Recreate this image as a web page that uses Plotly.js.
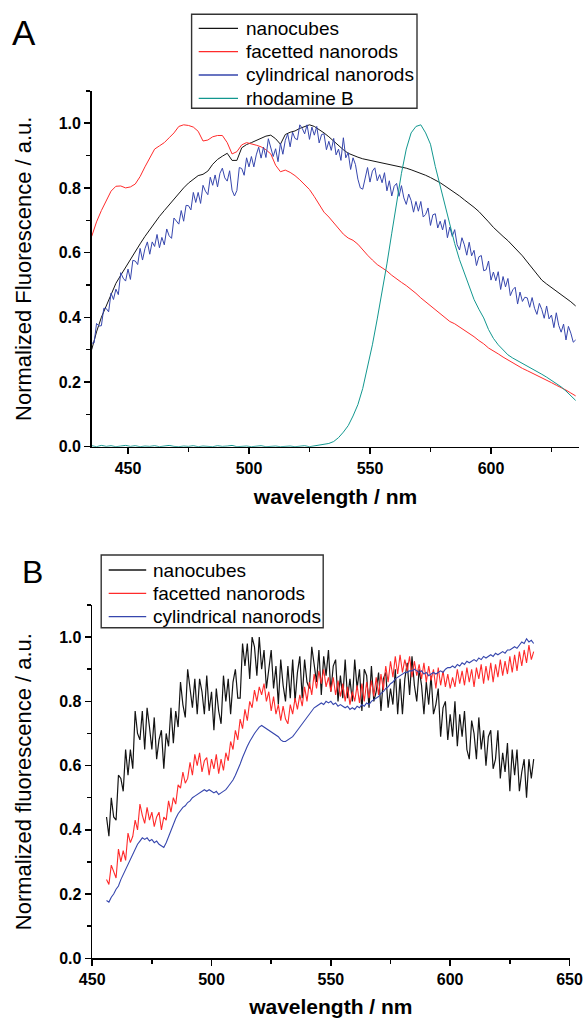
<!DOCTYPE html>
<html>
<head>
<meta charset="utf-8">
<script src="https://cdn.plot.ly/plotly-3.0.1.min.js"></script>
<style>html,body{margin:0;padding:0;background:#fff;}#chart{width:585px;height:1018px;}</style>
</head>
<body>
<div id="chart"></div>
<script>
// ---------------- DATA: panel A ----------------
const wavelengthA = [435,437,439,441,443,445,447,449,451,453,455,457,459,461,463,465,467,469,471,473,475,477,479,481,483,485,487,489,491,493,495,497,499,501,503,505,507,509,511,513,515,517,519,521,523,525,527,529,531,533,535,537,539,541,543,545,547,549,551,553,555,557,559,561,563,565,567,569,571,573,575,577,579,581,583,585,587,589,591,593,595,597,599,601,603,605,607,609,611,613,615,617,619,621,623,625,627,629,631,633,635];
const nanocubesA = [0.30,0.355,0.40,0.435,0.47,0.505,0.53,0.555,0.578,0.603,
0.627,0.65,0.672,0.693,0.712,0.73,0.748,0.765,0.785,0.80,
0.815,0.828,0.838,0.842,0.852,0.873,0.888,0.898,0.907,0.885,
0.885,0.924,0.934,0.94,0.946,0.952,0.96,0.963,0.952,0.935,
0.965,0.972,0.976,0.984,0.99,0.995,0.99,0.981,0.97,0.958,
0.944,0.93,0.918,0.907,0.9,0.895,0.89,0.887,0.884,0.881,
0.878,0.875,0.872,0.869,0.865,0.861,0.856,0.851,0.845,0.839,
0.832,0.825,0.816,0.806,0.796,0.785,0.775,0.763,0.752,0.74,
0.727,0.712,0.695,0.678,0.663,0.65,0.637,0.622,0.607,0.59,
0.571,0.552,0.532,0.515,0.503,0.492,0.482,0.471,0.46,0.448,
0.435];
const facettedA = [0.65,0.695,0.73,0.76,0.79,0.805,0.806,0.80,0.803,0.812,
0.835,0.865,0.895,0.92,0.93,0.94,0.955,0.97,0.99,0.995,
0.993,0.988,0.975,0.945,0.948,0.958,0.962,0.962,0.94,0.905,
0.912,0.933,0.94,0.937,0.932,0.927,0.918,0.905,0.87,0.85,
0.855,0.848,0.838,0.825,0.81,0.795,0.773,0.75,0.725,0.71,
0.692,0.675,0.657,0.645,0.638,0.626,0.608,0.592,0.577,0.563,
0.553,0.543,0.53,0.518,0.508,0.498,0.487,0.474,0.46,0.448,
0.436,0.424,0.41,0.398,0.387,0.38,0.37,0.361,0.35,0.34,
0.328,0.318,0.305,0.297,0.287,0.277,0.268,0.258,0.25,0.242,
0.235,0.228,0.22,0.212,0.205,0.198,0.19,0.183,0.175,0.166,
0.157];
const rhodamineA = [0.003,0.0,0.004,0.001,0.003,0.0,0.002,0.004,0.001,0.003,
0.0,0.002,0.001,0.003,0.0,0.002,0.004,0.001,0.0,0.002,
0.001,0.003,0.0,0.002,0.001,0.0,0.003,0.001,0.002,0.004,
0.0,0.001,0.002,0.0,0.001,0.003,0.0,0.001,0.002,0.0,
0.001,0.002,0.0,0.001,0.003,0.0,0.002,0.004,0.006,0.01,
0.016,0.028,0.045,0.065,0.095,0.13,0.18,0.245,0.315,0.395,
0.475,0.565,0.66,0.755,0.845,0.92,0.97,0.99,0.995,0.97,
0.935,0.866,0.805,0.745,0.69,0.628,0.578,0.535,0.495,0.455,
0.425,0.398,0.362,0.335,0.315,0.298,0.284,0.274,0.266,0.258,
0.25,0.242,0.233,0.224,0.215,0.205,0.195,0.185,0.172,0.158,
0.143];
const wavelengthA1 = [435,436,437,438,439,440,441,442,443,444,445,446,447,448,449,450,451,452,453,454,455,456,457,458,459,460,461,462,463,464,465,466,467,468,469,470,471,472,473,474,475,476,477,478,479,480,481,482,483,484,485,486,487,488,489,490,491,492,493,494,495,496,497,498,499,500,501,502,503,504,505,506,507,508,509,510,511,512,513,514,515,516,517,518,519,520,521,522,523,524,525,526,527,528,529,530,531,532,533,534,535,536,537,538,539,540,541,542,543,544,545,546,547,548,549,550,551,552,553,554,555,556,557,558,559,560,561,562,563,564,565,566,567,568,569,570,571,572,573,574,575,576,577,578,579,580,581,582,583,584,585,586,587,588,589,590,591,592,593,594,595,596,597,598,599,600,601,602,603,604,605,606,607,608,609,610,611,612,613,614,615,616,617,618,619,620,621,622,623,624,625,626,627,628,629,630,631,632,633,634,635];
const cylindricalA = [0.32,0.321,0.381,0.373,0.374,0.428,0.427,0.417,0.475,0.455,
0.487,0.47,0.538,0.521,0.512,0.549,0.517,0.576,0.574,0.563,
0.613,0.577,0.612,0.633,0.595,0.633,0.619,0.656,0.615,0.647,
0.624,0.673,0.652,0.644,0.707,0.699,0.688,0.73,0.697,0.746,
0.745,0.732,0.786,0.755,0.786,0.752,0.808,0.79,0.779,0.833,
0.808,0.84,0.803,0.845,0.861,0.831,0.821,0.853,0.793,0.775,
0.792,0.863,0.86,0.839,0.893,0.865,0.897,0.865,0.902,0.926,
0.892,0.926,0.894,0.952,0.921,0.897,0.921,0.881,0.938,0.904,
0.947,0.967,0.927,0.972,0.953,0.949,0.995,0.984,0.967,0.995,
0.95,0.988,0.963,0.99,0.939,0.965,0.967,0.918,0.944,0.916,
0.953,0.902,0.92,0.885,0.955,0.893,0.909,0.857,0.893,0.872,
0.827,0.80,0.796,0.831,0.863,0.818,0.852,0.862,0.822,0.841,
0.816,0.847,0.791,0.822,0.775,0.805,0.814,0.774,0.807,0.769,
0.749,0.781,0.761,0.725,0.758,0.728,0.758,0.71,0.718,0.738,
0.684,0.717,0.72,0.676,0.697,0.67,0.702,0.646,0.679,0.65,
0.671,0.625,0.608,0.646,0.624,0.592,0.632,0.59,0.607,0.56,
0.587,0.591,0.544,0.547,0.574,0.515,0.54,0.513,0.541,0.486,
0.526,0.494,0.52,0.467,0.485,0.493,0.441,0.478,0.449,0.462,
0.46,0.431,0.461,0.428,0.409,0.443,0.424,0.397,0.435,0.395,
0.407,0.368,0.414,0.375,0.354,0.379,0.33,0.372,0.351,0.323,
0.33];

// ---------------- DATA: panel B ----------------
const wavelengthB = [456,457,458,459,460,461,462,463,464,465,466,467,468,469,470,471,472,473,474,475,476,477,478,479,480,481,482,483,484,485,486,487,488,489,490,491,492,493,494,495,496,497,498,499,500,501,502,503,504,505,506,507,508,509,510,511,512,513,514,515,516,517,518,519,520,521,522,523,524,525,526,527,528,529,530,531,532,533,534,535,536,537,538,539,540,541,542,543,544,545,546,547,548,549,550,551,552,553,554,555,556,557,558,559,560,561,562,563,564,565,566,567,568,569,570,571,572,573,574,575,576,577,578,579,580,581,582,583,584,585,586,587,588,589,590,591,592,593,594,595,596,597,598,599,600,601,602,603,604,605,606,607,608,609,610,611,612,613,614,615,616,617,618,619,620,621,622,623,624,625,626,627,628,629,630,631,632,633,634,635];
const nanocubesB = [0.44,0.38,0.50,0.44,0.43,0.57,0.56,0.52,0.65,0.57,
0.65,0.59,0.77,0.70,0.68,0.77,0.65,0.78,0.72,0.65,
0.75,0.62,0.68,0.71,0.59,0.70,0.66,0.78,0.67,0.77,
0.72,0.86,0.79,0.75,0.90,0.84,0.78,0.87,0.76,0.87,
0.83,0.76,0.88,0.77,0.83,0.71,0.84,0.77,0.73,0.88,
0.80,0.87,0.76,0.86,0.90,0.81,0.81,0.98,0.91,0.98,
0.87,1.00,0.97,0.88,1.00,0.90,0.96,0.84,0.91,0.96,
0.84,0.91,0.79,0.93,0.85,0.80,0.91,0.81,0.93,0.80,
0.89,0.94,0.81,0.93,0.86,0.84,0.97,0.92,0.86,0.96,
0.82,0.94,0.88,0.96,0.83,0.91,0.93,0.80,0.88,0.81,
0.93,0.81,0.87,0.80,0.93,0.84,0.90,0.77,0.90,0.88,
0.78,0.91,0.80,0.83,0.89,0.77,0.87,0.89,0.78,0.84,
0.79,0.90,0.76,0.87,0.76,0.87,0.92,0.82,0.94,0.85,
0.80,0.90,0.85,0.76,0.86,0.79,0.88,0.76,0.79,0.84,
0.69,0.78,0.80,0.68,0.76,0.69,0.80,0.66,0.76,0.69,
0.77,0.65,0.62,0.74,0.70,0.62,0.75,0.65,0.71,0.60,
0.69,0.71,0.59,0.62,0.71,0.56,0.64,0.58,0.67,0.52,
0.65,0.57,0.65,0.52,0.58,0.62,0.50,0.62,0.56,0.62];
const facettedB = [0.245,0.23,0.29,0.27,0.25,0.34,0.30,0.335,0.305,0.39,
0.36,0.38,0.43,0.40,0.48,0.445,0.42,0.47,0.43,0.455,
0.41,0.44,0.455,0.40,0.44,0.43,0.49,0.455,0.50,0.48,
0.54,0.53,0.58,0.545,0.56,0.61,0.57,0.635,0.60,0.64,
0.58,0.615,0.625,0.57,0.62,0.59,0.635,0.575,0.62,0.585,
0.64,0.615,0.675,0.65,0.71,0.68,0.745,0.715,0.775,0.74,
0.80,0.78,0.835,0.80,0.845,0.82,0.855,0.80,0.83,0.77,
0.815,0.76,0.79,0.74,0.785,0.745,0.73,0.79,0.76,0.81,
0.775,0.82,0.785,0.845,0.80,0.86,0.82,0.885,0.84,0.895,
0.855,0.90,0.845,0.875,0.83,0.875,0.82,0.865,0.815,0.855,
0.80,0.845,0.79,0.83,0.80,0.85,0.795,0.855,0.80,0.86,
0.81,0.865,0.815,0.875,0.82,0.885,0.835,0.91,0.86,0.925,
0.875,0.94,0.885,0.945,0.89,0.93,0.895,0.94,0.875,0.925,
0.88,0.915,0.87,0.92,0.86,0.91,0.865,0.90,0.84,0.905,
0.85,0.895,0.845,0.885,0.84,0.875,0.845,0.90,0.855,0.895,
0.85,0.905,0.86,0.90,0.845,0.905,0.87,0.915,0.855,0.91,
0.865,0.92,0.86,0.915,0.875,0.93,0.88,0.925,0.885,0.94,
0.89,0.945,0.895,0.955,0.91,0.96,0.92,0.975,0.93,0.955];
const cylindricalB = [0.18,0.175,0.19,0.20,0.215,0.225,0.245,0.26,0.28,0.295,
0.31,0.325,0.34,0.355,0.365,0.375,0.37,0.375,0.365,0.37,
0.36,0.365,0.355,0.35,0.345,0.36,0.38,0.40,0.42,0.435,
0.45,0.46,0.47,0.475,0.485,0.49,0.50,0.505,0.51,0.515,
0.52,0.525,0.52,0.525,0.52,0.515,0.52,0.51,0.515,0.52,
0.525,0.535,0.545,0.555,0.57,0.585,0.605,0.625,0.645,0.66,
0.675,0.69,0.70,0.71,0.72,0.725,0.72,0.715,0.71,0.705,
0.70,0.695,0.69,0.68,0.675,0.675,0.68,0.685,0.69,0.70,
0.71,0.72,0.73,0.74,0.75,0.76,0.77,0.78,0.785,0.79,
0.795,0.79,0.80,0.795,0.80,0.79,0.795,0.785,0.79,0.785,
0.78,0.785,0.775,0.78,0.775,0.785,0.78,0.79,0.785,0.795,
0.79,0.80,0.805,0.81,0.815,0.825,0.83,0.84,0.845,0.855,
0.86,0.87,0.875,0.88,0.885,0.89,0.89,0.895,0.895,0.90,
0.895,0.89,0.895,0.885,0.89,0.88,0.885,0.89,0.885,0.89,
0.895,0.89,0.90,0.905,0.905,0.91,0.905,0.915,0.91,0.92,
0.915,0.925,0.92,0.925,0.93,0.925,0.935,0.93,0.94,0.935,
0.94,0.945,0.94,0.95,0.945,0.95,0.955,0.95,0.96,0.96,
0.965,0.97,0.965,0.975,0.985,0.98,0.995,0.985,0.99,0.98];

const namesA = ['nanocubes','facetted nanorods','cylindrical nanorods','rhodamine B'];
const namesB = ['nanocubes','facetted nanorods','cylindrical nanorods'];
const COLORS = {black:'#141414', red:'#ff2b2b', blue:'#3646ad', teal:'#12978f'};

// ---------------- LAYOUT ----------------
const W = 585, H = 1018;
const FONT = 'Liberation Sans, Arial, Helvetica, sans-serif';
const px = x => x / W;
const py = y => 1 - y / H;

function xAxis(domain, range, anchor) {
  return {
    domain: domain, range: range, anchor: anchor,
    showgrid: false, zeroline: false,
    showline: true, linecolor: '#000', linewidth: 1.6,
    ticks: 'outside', ticklen: 6, tickwidth: 1.5, tickcolor: '#000',
    tick0: 0, dtick: 50, ticklabeloverflow: 'allow',
    minor: {tick0: 0, dtick: 25, ticks: 'outside', ticklen: 4, tickwidth: 1.5, tickcolor: '#000', showgrid: false},
    tickfont: {family: FONT, size: 16, weight: 'bold', color: '#000'},
    title: {text: 'wavelength / nm', font: {family: FONT, size: 21, weight: 'bold', color: '#000'}, standoff: 14}
  };
}
function yAxis(domain, anchor, title) {
  return {
    domain: domain, range: [0, 1.1], anchor: anchor,
    showgrid: false, zeroline: false,
    showline: true, linecolor: '#000', linewidth: 1.6,
    ticks: 'outside', ticklen: 6, tickwidth: 1.5, tickcolor: '#000',
    tick0: 0, dtick: 0.2, tickformat: '.1f',
    minor: {tick0: 0, dtick: 0.1, ticks: 'outside', ticklen: 4, tickwidth: 1.5, tickcolor: '#000', showgrid: false},
    tickfont: {family: FONT, size: 16, weight: 'bold', color: '#000'},
    title: {text: title, font: {family: FONT, size: 22, color: '#000'}, standoff: 21}
  };
}

const data = [
  {x: wavelengthA, y: nanocubesA, name: namesA[0], type: 'scatter', mode: 'lines', line: {color: COLORS.black, width: 1}, xaxis: 'x', yaxis: 'y'},
  {x: wavelengthA, y: facettedA, name: namesA[1], type: 'scatter', mode: 'lines', line: {color: COLORS.red, width: 1}, xaxis: 'x', yaxis: 'y'},
  {x: wavelengthA1, y: cylindricalA, name: namesA[2], type: 'scatter', mode: 'lines', line: {color: COLORS.blue, width: 1}, xaxis: 'x', yaxis: 'y'},
  {x: wavelengthA, y: rhodamineA, name: namesA[3], type: 'scatter', mode: 'lines', line: {color: COLORS.teal, width: 1}, xaxis: 'x', yaxis: 'y'},
  {x: wavelengthB, y: nanocubesB, name: namesB[0], type: 'scatter', mode: 'lines', line: {color: COLORS.black, width: 1.2}, xaxis: 'x2', yaxis: 'y2'},
  {x: wavelengthB, y: facettedB, name: namesB[1], type: 'scatter', mode: 'lines', line: {color: COLORS.red, width: 1.1}, xaxis: 'x2', yaxis: 'y2'},
  {x: wavelengthB, y: cylindricalB, name: namesB[2], type: 'scatter', mode: 'lines', line: {color: COLORS.blue, width: 1.1}, xaxis: 'x2', yaxis: 'y2'}
];

// manual legends
const shapes = [];
const annotations = [];
function addLegend(box, rows, lineX, textX, names, colors) {
  shapes.push({type: 'rect', xref: 'paper', yref: 'paper', x0: px(box[0]), x1: px(box[2]), y0: py(box[1]), y1: py(box[3]), line: {color: '#333', width: 1.4}, fillcolor: 'rgba(0,0,0,0)'});
  names.forEach((n, i) => {
    shapes.push({type: 'line', xref: 'paper', yref: 'paper', x0: px(lineX[0]), x1: px(lineX[1]), y0: py(rows[i]), y1: py(rows[i]), line: {color: colors[i], width: 1.3}});
    annotations.push({xref: 'paper', yref: 'paper', x: px(textX), y: py(rows[i]), xanchor: 'left', yanchor: 'middle', showarrow: false, text: n, font: {family: FONT, size: 19, color: '#000'}});
  });
}
addLegend([191.6, 14.3, 417, 108.3], [28.3, 51.7, 75, 98.3], [198.7, 238], 243.7, namesA, [COLORS.black, COLORS.red, COLORS.blue, COLORS.teal]);
addLegend([101.2, 555, 323.2, 627.7], [570, 593.3, 616.7], [108.7, 146.2], 151.1, namesB, [COLORS.black, COLORS.red, COLORS.blue]);

annotations.push({xref: 'paper', yref: 'paper', x: px(10), y: py(32.5), xanchor: 'left', yanchor: 'middle', showarrow: false, text: 'A', font: {family: FONT, size: 35, color: '#000'}});
annotations.push({xref: 'paper', yref: 'paper', x: px(20), y: py(571.7), xanchor: 'left', yanchor: 'middle', showarrow: false, text: 'B', font: {family: FONT, size: 32, color: '#000'}});

const layout = {
  width: W, height: H,
  margin: {l: 0, r: 0, t: 0, b: 0},
  paper_bgcolor: '#fff', plot_bgcolor: '#fff',
  showlegend: false,
  xaxis: xAxis([px(91.7), px(579.3)], [435, 636.5], 'y'),
  yaxis: yAxis([py(446.7), py(90.85)], 'x', 'Normalized Fluorescence / a.u.'),
  xaxis2: xAxis([px(92.2), px(569.5)], [450, 650], 'y2'),
  yaxis2: yAxis([py(958.3), py(605)], 'x2', 'Normalized fluorescence / a.u.'),
  shapes: shapes,
  annotations: annotations
};

Plotly.newPlot('chart', data, layout, {staticPlot: true, displayModeBar: false});
</script>
</body>
</html>
